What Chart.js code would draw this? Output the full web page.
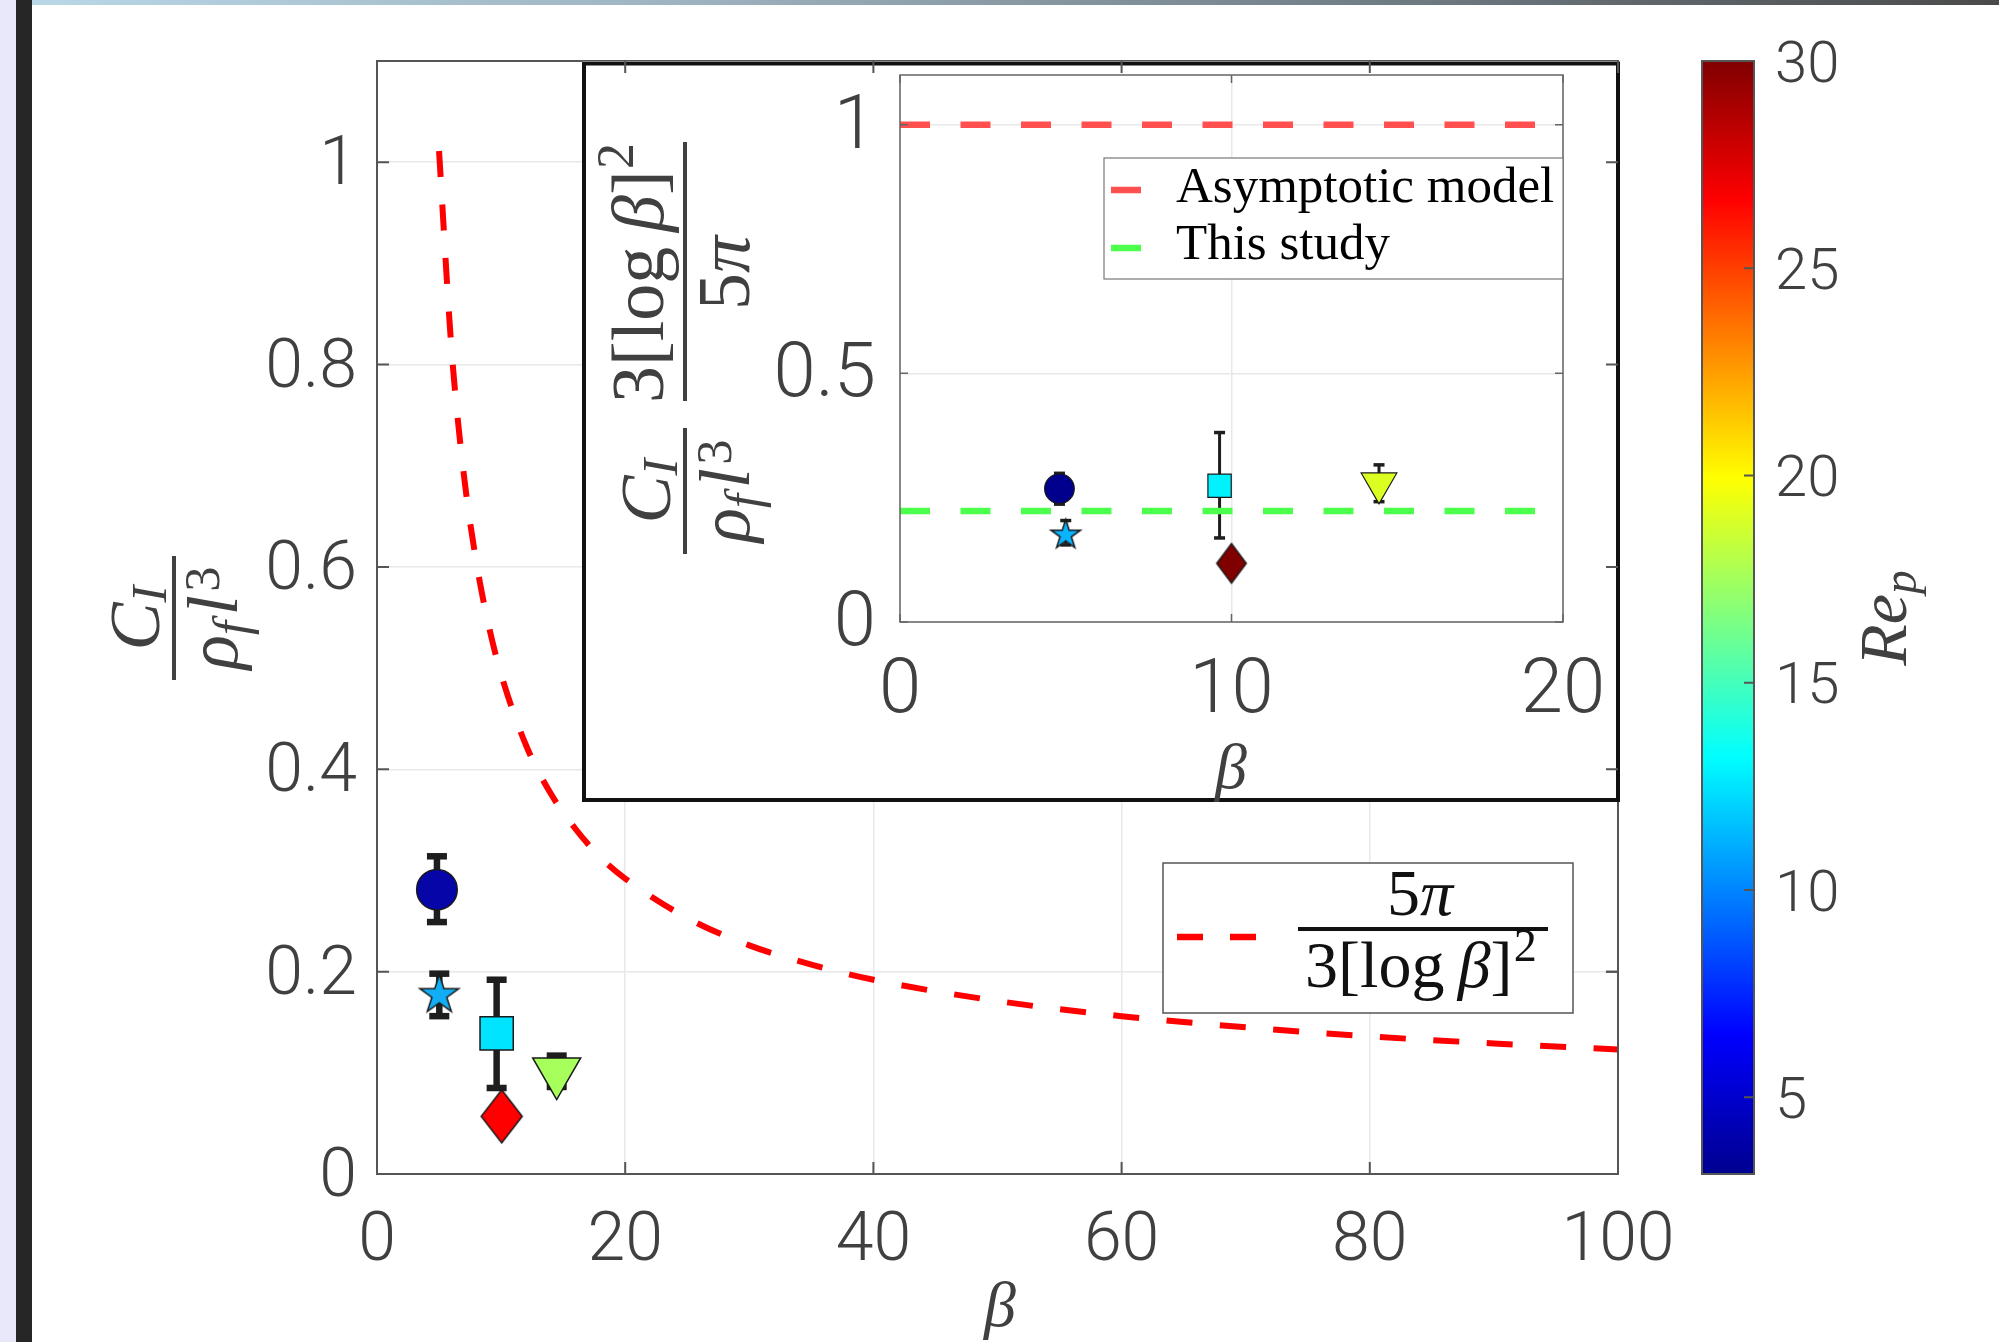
<!DOCTYPE html>
<html><head><meta charset="utf-8">
<script src="https://cdn.jsdelivr.net/npm/chart.js@4.4.1/dist/chart.umd.min.js"></script>
<style>
html,body{margin:0;padding:0;background:#fff;}
body{width:1999px;height:1342px;position:relative;overflow:hidden;}
canvas{position:absolute;left:0;top:0;}
#lav{position:absolute;left:0;top:0;width:16px;height:1342px;background:#e8e8fa;}
#dark{position:absolute;left:16px;top:0;width:16px;height:1342px;background:#262626;}
#topbar{position:absolute;left:32px;top:0;width:1967px;height:5px;background:linear-gradient(to right,#b9d7e7 0%,#9db2bf 34%,#6f7b83 69.5%,#4a4a4a 100%);}
</style></head><body>
<canvas id="main" width="1999" height="1342"></canvas>
<canvas id="inset" width="1999" height="1342"></canvas>
<canvas id="cbar" width="1999" height="1342"></canvas>
<div id="lav"></div><div id="dark"></div><div id="topbar"></div>
<script>
// ---------------- DATA ----------------
// main axes
const xTicksMain = [0, 20, 40, 60, 80, 100];
const yTicksMain = [0, 0.2, 0.4, 0.6, 0.8, 1];
const curveBeta = [5, 6, 7, 8, 9, 10, 12, 14, 16, 18, 20, 25, 30, 35, 40, 50, 60, 70, 80, 90, 100];
const curveVal  = [1.011, 0.816, 0.691, 0.605, 0.542, 0.494, 0.424, 0.376, 0.341, 0.313, 0.292, 0.253, 0.226, 0.207, 0.192, 0.171, 0.156, 0.145, 0.136, 0.129, 0.123];
const mainBeta     = [4.83, 5.02, 9.64, 10.05, 14.48];
const mainCI       = [0.281, 0.177, 0.139, 0.057, 0.101];
const mainErrLow   = [0.249, 0.156, 0.085, null, 0.086];
const mainErrHigh  = [0.314, 0.198, 0.192, null, 0.117];
// inset axes
const xTicksInset = [0, 10, 20];
const yTicksInset = [0, 0.5, 1];
const insetBeta    = [4.81, 5.00, 9.64, 10.0, 14.45];
const insetRatio   = [0.268, 0.175, 0.274, 0.118, 0.279];
const insetErrLow  = [0.237, 0.155, 0.169, null, 0.242];
const insetErrHigh = [0.299, 0.204, 0.381, null, 0.316];
const asymBeta  = [0, 19.2];
const asymVal   = [1, 1];
const studyBeta = [0, 19.2];
const studyVal  = [0.223, 0.223];
const insetLegendLabels = ['Asymptotic model', 'This study'];
// colorbar
const cbTicks = [5, 10, 15, 20, 25, 30];
const cbMin = 3.15, cbMax = 30;

// ---------------- STYLES ----------------
const markerShapes = ['circle', 'star', 'square', 'diamond', 'triangleDown'];
const mainColors  = ['#0505a8', '#12aef5', '#00e4ff', '#ff0000', '#a6ff5a'];
const insetColors = ['#00008c', '#0ab4ff', '#00f2ff', '#800000', '#dcff22'];
const mainMarkerSize  = {circle: 20.3, star: 20.5, square: 23.5, diamond: [41, 53], triangleDown: 27.7};
const insetMarkerSize = {circle: 14.8, star: 15.5, square: 16.5, diamond: [29.5, 39.7], triangleDown: 20.6};
const jetStops = [[0, '#00008f'], [0.125, '#0000ff'], [0.375, '#00ffff'], [0.625, '#ffff00'], [0.875, '#ff0000'], [1, '#800000']];
const TXT = '#404040';
const SANS = 'Roboto, "Liberation Sans", sans-serif';
const SERIF = '"Liberation Serif", "DejaVu Serif", serif';

Chart.defaults.font.family = SANS;

// ---------------- HELPERS ----------------
function makeStar(R, fill) {
  const pad = 3, s = Math.ceil(2 * R + 2 * pad);
  const c = document.createElement('canvas'); c.width = s; c.height = s;
  const g = c.getContext('2d'); const cx = s / 2, cy = s / 2, r = R * 0.382;
  g.beginPath();
  for (let k = 0; k < 10; k++) {
    const ang = -Math.PI / 2 + k * Math.PI / 5, rr = k % 2 ? r : R;
    const px = cx + rr * Math.cos(ang), py = cy + rr * Math.sin(ang);
    k ? g.lineTo(px, py) : g.moveTo(px, py);
  }
  g.closePath(); g.fillStyle = fill; g.fill(); g.lineWidth = 1.5; g.strokeStyle = '#1a1a1a'; g.stroke();
  return c;
}
function makeDiamond(w, h, fill) {
  const pad = 3, cw = Math.ceil(w + 2 * pad), ch = Math.ceil(h + 2 * pad);
  const c = document.createElement('canvas'); c.width = cw; c.height = ch;
  const g = c.getContext('2d'); const cx = cw / 2, cy = ch / 2;
  g.beginPath(); g.moveTo(cx, cy - h / 2); g.lineTo(cx + w / 2, cy); g.lineTo(cx, cy + h / 2); g.lineTo(cx - w / 2, cy); g.closePath();
  g.fillStyle = fill; g.fill(); g.lineWidth = 1.5; g.strokeStyle = '#1a1a1a'; g.stroke();
  return c;
}
function markerProps(colors, sizes) {
  const style = [], radius = [], rot = [];
  markerShapes.forEach((sh, i) => {
    if (sh === 'circle') { style.push('circle'); radius.push(sizes.circle); rot.push(0); }
    else if (sh === 'square') { style.push('rect'); radius.push(sizes.square); rot.push(0); }
    else if (sh === 'triangleDown') { style.push('triangle'); radius.push(sizes.triangleDown); rot.push(180); }
    else if (sh === 'star') { style.push(makeStar(sizes.star, colors[i])); radius.push(sizes.star); rot.push(0); }
    else if (sh === 'diamond') { style.push(makeDiamond(sizes.diamond[0], sizes.diamond[1], colors[i])); radius.push(sizes.diamond[1] / 2); rot.push(0); }
  });
  return {style, radius, rot};
}
function drawErrorBars(chart, xs, lows, highs, stemW, capW, capH, color) {
  const {ctx, scales: {x, y}} = chart;
  ctx.save(); ctx.fillStyle = color;
  xs.forEach((b, i) => {
    if (lows[i] == null) return;
    const px = x.getPixelForValue(b), yl = y.getPixelForValue(lows[i]), yh = y.getPixelForValue(highs[i]);
    ctx.fillRect(px - stemW / 2, yh, stemW, yl - yh);
    ctx.fillRect(px - capW / 2, yh - capH / 2, capW, capH);
    ctx.fillRect(px - capW / 2, yl - capH / 2, capW, capH);
  });
  ctx.restore();
}
function drawBoxTicks(ctx, a, x, y, xt, yt, len, color, lw) {
  ctx.save(); ctx.strokeStyle = color; ctx.lineWidth = lw; ctx.beginPath();
  xt.forEach(v => { const p = x.getPixelForValue(v); ctx.moveTo(p, a.bottom); ctx.lineTo(p, a.bottom - len); ctx.moveTo(p, a.top); ctx.lineTo(p, a.top + len); });
  yt.forEach(v => { const p = y.getPixelForValue(v); ctx.moveTo(a.left, p); ctx.lineTo(a.left + len, p); ctx.moveTo(a.right, p); ctx.lineTo(a.right - len, p); });
  ctx.stroke();
  ctx.strokeRect(a.left, a.top, a.right - a.left, a.bottom - a.top);
  ctx.restore();
}
function segFont(sg, size) { const s = (sg.sub || sg.sup) ? size * 0.7 : size; return (sg.it ? 'italic ' : '') + s.toFixed(1) + 'px ' + SERIF; }
function mathWidth(ctx, segs, size) { let w = 0; segs.forEach(sg => { ctx.font = segFont(sg, size); w += ctx.measureText(sg.t).width + (sg.k || 0) * size; }); return w; }
function drawMath(ctx, segs, cx, base, size) {
  const w = mathWidth(ctx, segs, size); let x = cx - w / 2;
  ctx.textAlign = 'left'; ctx.textBaseline = 'alphabetic';
  segs.forEach(sg => {
    ctx.font = segFont(sg, size);
    const dy = sg.sub ? (sg.d != null ? sg.d : 0.12) * size : (sg.sup ? -(sg.r != null ? sg.r : 0.42) * size : 0);
    ctx.fillText(sg.t, x, base + dy);
    x += ctx.measureText(sg.t).width + (sg.k || 0) * size;
  });
}
const segCI  = [{t: 'C', it: 1}, {t: 'I', it: 1, sub: 1, d: 0.1}];
const segRho = [{t: 'ρ', it: 1}, {t: 'f', it: 1, sub: 1, d: 0.15, k: 0.08}, {t: 'l', it: 1, k: 0.05}, {t: '3', sup: 1, r: 0.25}];
const segLog = [{t: '3[log'}, {t: '\u2009'}, {t: 'β', it: 1}, {t: ']', k: 0.02}, {t: '2', sup: 1, r: 0.4}];
const seg5pi = [{t: '5'}, {t: 'π', it: 1}];

function linScale(min, max, ticksArr, fit, fitVal, extra) {
  return Object.assign({
    type: 'linear', min, max,
    afterBuildTicks: s => { s.ticks = ticksArr.map(v => ({value: v})); },
    afterFit: s => { s[fit] = fitVal; },
    border: {display: false},
  }, extra);
}

// ---------------- MAIN CHART ----------------
const mainMk = markerProps(mainColors, mainMarkerSize);
const mainPlugin = {
  id: 'mainDecor',
  beforeDatasetsDraw(chart) { drawErrorBars(chart, mainBeta, mainErrLow, mainErrHigh, 6.5, 20, 6.5, '#1e1e1e'); },
  afterDraw(chart) {
    const {ctx, chartArea: a, scales: {x, y}} = chart;
    drawBoxTicks(ctx, a, x, y, xTicksMain, yTicksMain, 12, '#555', 2);
    ctx.save();
    // legend
    ctx.fillStyle = '#fff'; ctx.fillRect(1163, 863, 410, 150);
    ctx.strokeStyle = '#555'; ctx.lineWidth = 1.5; ctx.strokeRect(1163, 863, 410, 150);
    ctx.strokeStyle = '#ff0000'; ctx.lineWidth = 6.5; ctx.setLineDash([26, 27]);
    ctx.beginPath(); ctx.moveTo(1177, 937); ctx.lineTo(1256, 937); ctx.stroke(); ctx.setLineDash([]);
    ctx.fillStyle = '#111';
    drawMath(ctx, seg5pi, 1420, 915, 66);
    ctx.fillRect(1298, 927, 250, 4);
    drawMath(ctx, segLog, 1421, 987, 66);
    // axis titles
    ctx.fillStyle = TXT;
    drawMath(ctx, [{t: 'β', it: 1}], 1000, 1326, 64);
    ctx.translate(174, 618); ctx.rotate(-Math.PI / 2);
    ctx.fillRect(-62, -2, 124, 4);
    drawMath(ctx, segCI, 0, -15, 72);
    drawMath(ctx, segRho, 0, 63, 72);
    ctx.restore();
  }
};
const mainChart = new Chart(document.getElementById('main'), {
  type: 'scatter',
  data: {datasets: [
    {label: 'markers', order: 0, showLine: false,
     data: mainBeta.map((b, i) => ({x: b, y: mainCI[i]})),
     pointStyle: mainMk.style, pointRadius: mainMk.radius, pointRotation: mainMk.rot,
     pointBackgroundColor: mainColors, pointBorderColor: '#1a1a1a', pointBorderWidth: 1.5},
    {label: 'curve', type: 'line', order: 1, showLine: true,
     data: curveBeta.map((b, i) => ({x: b, y: curveVal[i]})),
     borderColor: '#ff0000', borderWidth: 6, borderDash: [26, 27.5], borderCapStyle: 'butt',
     pointRadius: 0, fill: false, cubicInterpolationMode: 'monotone'}
  ]},
  options: {
    responsive: false, animation: false, devicePixelRatio: 1,
    layout: {padding: {left: 0, top: 61, right: 381, bottom: 0}},
    plugins: {legend: {display: false}, tooltip: {enabled: false}},
    scales: {
      x: linScale(0, 100, xTicksMain, 'height', 168, {
        grid: {color: '#e8e8e8', lineWidth: 1.5, drawTicks: false},
        ticks: {padding: 28, color: TXT, font: {size: 68, weight: 300}, maxRotation: 0, autoSkip: false, callback: v => String(v)}}),
      y: linScale(0, 1.1, yTicksMain, 'width', 377, {
        grid: {color: '#e8e8e8', lineWidth: 1.5, drawTicks: false},
        ticks: {padding: 20, color: TXT, font: {size: 68, weight: 300}, labelOffset: 5, autoSkip: false, callback: v => String(v)}})
    }
  },
  plugins: [mainPlugin]
});

// ---------------- INSET CHART ----------------
const insetMk = markerProps(insetColors, insetMarkerSize);
const insetPlugin = {
  id: 'insetDecor',
  beforeDraw(chart) { const c = chart.ctx; c.save(); c.fillStyle = '#fff'; c.fillRect(582, 61, 1038, 741); c.restore(); },
  beforeDatasetsDraw(chart) { drawErrorBars(chart, insetBeta, insetErrLow, insetErrHigh, 3, 11, 3.5, '#1e1e1e'); },
  afterDraw(chart) {
    const {ctx, chartArea: a, scales: {x, y}} = chart;
    drawBoxTicks(ctx, a, x, y, xTicksInset, yTicksInset, 8, '#666', 1.5);
    ctx.save();
    // outer box
    ctx.strokeStyle = '#111'; ctx.lineWidth = 4; ctx.strokeRect(584, 63.5, 1034, 736.5);
    // ticks of the main axes over the inset frame (top and right edges)
    const ma = mainChart.chartArea, mx = mainChart.scales.x, my = mainChart.scales.y;
    ctx.strokeStyle = '#555'; ctx.lineWidth = 2; ctx.beginPath();
    xTicksMain.forEach(v => { const p = mx.getPixelForValue(v); ctx.moveTo(p, ma.top); ctx.lineTo(p, ma.top + 12); });
    yTicksMain.forEach(v => { const p = my.getPixelForValue(v); ctx.moveTo(ma.right, p); ctx.lineTo(ma.right - 12, p); });
    ctx.stroke();
    // legend
    ctx.fillStyle = '#fff'; ctx.fillRect(1104, 158, 459, 121);
    ctx.strokeStyle = '#777'; ctx.lineWidth = 1.2; ctx.strokeRect(1104, 158, 459, 121);
    ctx.lineWidth = 6.5;
    ctx.strokeStyle = '#ff4f4f'; ctx.beginPath(); ctx.moveTo(1111, 190); ctx.lineTo(1141, 190); ctx.stroke();
    ctx.strokeStyle = '#4cff4c'; ctx.beginPath(); ctx.moveTo(1111, 248); ctx.lineTo(1141, 248); ctx.stroke();
    ctx.fillStyle = '#000'; ctx.font = '51px ' + SERIF; ctx.textAlign = 'left'; ctx.textBaseline = 'alphabetic';
    ctx.fillText(insetLegendLabels[0], 1176, 202);
    ctx.fillText(insetLegendLabels[1], 1176, 259);
    // titles
    ctx.fillStyle = TXT;
    drawMath(ctx, [{t: 'β', it: 1}], 1231, 788, 64);
    ctx.translate(685, 0); ctx.rotate(-Math.PI / 2);
    ctx.fillRect(-554, -2, 126, 4);
    drawMath(ctx, segCI, -491, -15, 72);
    drawMath(ctx, segRho, -491, 64, 72);
    ctx.fillRect(-401, -2, 259, 4);
    drawMath(ctx, segLog, -273, -22, 74);
    drawMath(ctx, seg5pi, -273, 64, 74);
    ctx.restore();
  }
};
new Chart(document.getElementById('inset'), {
  type: 'scatter',
  data: {datasets: [
    {label: 'markers', order: 0, showLine: false,
     data: insetBeta.map((b, i) => ({x: b, y: insetRatio[i]})),
     pointStyle: insetMk.style, pointRadius: insetMk.radius, pointRotation: insetMk.rot,
     pointBackgroundColor: insetColors, pointBorderColor: '#1a1a1a', pointBorderWidth: 1.2},
    {label: insetLegendLabels[0], type: 'line', order: 1, showLine: true,
     data: asymBeta.map((b, i) => ({x: b, y: asymVal[i]})),
     borderColor: '#ff4f4f', borderWidth: 6.5, borderDash: [30, 30.5], borderCapStyle: 'butt', pointRadius: 0, fill: false},
    {label: insetLegendLabels[1], type: 'line', order: 2, showLine: true,
     data: studyBeta.map((b, i) => ({x: b, y: studyVal[i]})),
     borderColor: '#4cff4c', borderWidth: 6.5, borderDash: [30, 30.5], borderCapStyle: 'butt', pointRadius: 0, fill: false}
  ]},
  options: {
    responsive: false, animation: false, devicePixelRatio: 1,
    layout: {padding: {left: 0, top: 75, right: 436, bottom: 0}},
    plugins: {legend: {display: false}, tooltip: {enabled: false}},
    scales: {
      x: linScale(0, 20, xTicksInset, 'height', 720, {
        grid: {color: '#e8e8e8', lineWidth: 1.5, drawTicks: false},
        ticks: {padding: 25, color: TXT, font: {size: 76, weight: 300}, maxRotation: 0, autoSkip: false, callback: v => String(v)}}),
      y: linScale(0, 1.1, yTicksInset, 'width', 900, {
        grid: {color: '#e8e8e8', lineWidth: 1.5, drawTicks: false},
        ticks: {padding: 24, color: TXT, font: {size: 76, weight: 300}, labelOffset: 4, autoSkip: false, callback: v => String(v)}})
    }
  },
  plugins: [insetPlugin]
});

// ---------------- COLORBAR ----------------
const cbPlugin = {
  id: 'cbDecor',
  beforeDatasetsDraw(chart) {
    const {ctx, chartArea: a, scales: {y}} = chart;
    ctx.save();
    const g = ctx.createLinearGradient(0, y.getPixelForValue(cbMin), 0, y.getPixelForValue(cbMax));
    jetStops.forEach(([t, c]) => g.addColorStop(t, c));
    ctx.fillStyle = g; ctx.fillRect(a.left, a.top, a.right - a.left, a.bottom - a.top);
    ctx.strokeStyle = '#555'; ctx.lineWidth = 2; ctx.strokeRect(a.left, a.top, a.right - a.left, a.bottom - a.top);
    ctx.beginPath();
    cbTicks.forEach(v => { const p = y.getPixelForValue(v); ctx.moveTo(a.right, p); ctx.lineTo(a.right - 10, p); });
    ctx.stroke();
    ctx.fillStyle = TXT;
    ctx.translate(1906, 618); ctx.rotate(-Math.PI / 2);
    drawMath(ctx, [{t: 'Re', it: 1}, {t: 'p', it: 1, sub: 1, d: 0.15}], 0, 0, 68);
    ctx.restore();
  }
};
new Chart(document.getElementById('cbar'), {
  type: 'scatter',
  data: {datasets: [{data: [], pointRadius: 0}]},
  options: {
    responsive: false, animation: false, devicePixelRatio: 1,
    layout: {padding: {left: 1702, top: 61, right: 0, bottom: 168}},
    plugins: {legend: {display: false}, tooltip: {enabled: false}},
    scales: {
      x: {type: 'linear', display: false, min: 0, max: 1},
      y: linScale(cbMin, cbMax, cbTicks, 'width', 245, {
        position: 'right',
        grid: {display: false, drawTicks: false},
        ticks: {padding: 21, color: TXT, font: {size: 58, weight: 300}, labelOffset: 6, autoSkip: false, callback: v => String(v)}})
    }
  },
  plugins: [cbPlugin]
});
</script></body></html>
